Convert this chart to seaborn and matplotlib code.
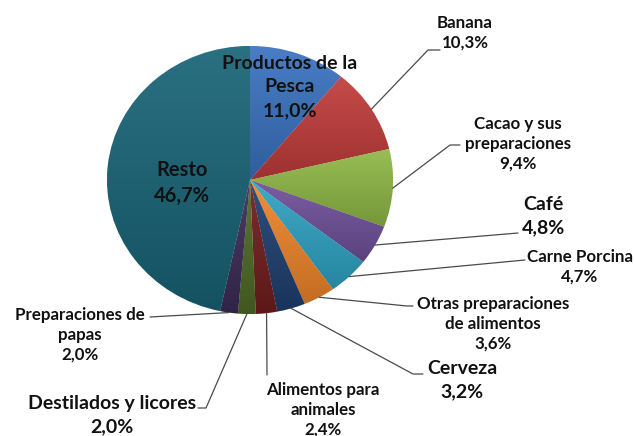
import numpy as np
import matplotlib
matplotlib.use("Agg")
import matplotlib.pyplot as plt
import matplotlib.colors as mcolors
import seaborn as sns

# data
categorias = ["Productos de la\nPesca", "Banana", "Cacao y sus\npreparaciones", "Café",
              "Carne Porcina", "Otras preparaciones\nde alimentos", "Cerveza",
              "Alimentos para\nanimales", "Destilados y licores",
              "Preparaciones de\npapas", "Resto"]
valores = [11.0, 10.3, 9.4, 4.8, 4.7, 3.6, 3.2, 2.4, 2.0, 2.0, 46.7]
colores = ["#3a72c0", "#c03c3a", "#8fb846", "#6f509a", "#2fa3c3", "#ee852a",
           "#1f4070", "#711d1d", "#4f6a26", "#3c2b56", "#186477"]

# label layout (pixel coords of the text block centre, font size, line spacing, leader path)
etiquetas = [
    dict(xy=(290, 87), fs=14.0, ls=1.45, path=None),
    dict(xy=(465, 33), fs=12.2, ls=1.3, path=[(428, 50), (440, 50)]),
    dict(xy=(518, 144), fs=12.2, ls=1.3, path=[(450, 145), (460, 145)]),
    dict(xy=(543, 216), fs=14.0, ls=1.45, path=[(518, 233)]),
    dict(xy=(580, 267), fs=12.2, ls=1.3, path=[(525, 260)]),
    dict(xy=(493, 324), fs=12.2, ls=1.3, path=[(407, 306), (413, 306)]),
    dict(xy=(462, 380), fs=14.0, ls=1.45, path=[(413, 374), (423, 374)]),
    dict(xy=(323, 410), fs=12.2, ls=1.3, path=[(267, 375)]),
    dict(xy=(112, 415), fs=14.0, ls=1.45, path=[(206, 408), (198, 408)]),
    dict(xy=(80, 335), fs=12.2, ls=1.3, path=[(150, 317)]),
    dict(xy=(182, 183), fs=14.5, ls=1.37, path=None),
]

W, H = 634, 436
CX, CY, RX, RY = 250, 180, 143, 134

sns.set_theme(style="white")
plt.rcParams["font.family"] = ["Lato", "DejaVu Sans"]

fig = plt.figure(figsize=(W / 100, H / 100), dpi=100)
fig.patch.set_facecolor("white")

# pie axes, slightly stretched like the original
ax = fig.add_axes([(CX - RX) / W, (H - CY - RY) / H, 2 * RX / W, 2 * RY / H])
wedges, _ = ax.pie(valores, colors=colores, startangle=90, counterclock=False,
                   radius=1.0, wedgeprops=dict(linewidth=0.5, edgecolor="#f4f4f4"))

# vertical shading inside each slice (light top, dark bottom)
for w, c in zip(wedges, colores):
    t = np.deg2rad(np.linspace(w.theta1, w.theta2, 60))
    xs = np.r_[0, np.cos(t)]
    ys = np.r_[0, np.sin(t)]
    rgb = np.array(mcolors.to_rgb(c))
    top = rgb + (1 - rgb) * 0.08
    bot = rgb * 0.82
    f = np.linspace(0, 1, 64)[:, None, None]
    img = bot[None, None, :] * (1 - f) + top[None, None, :] * f
    im = ax.imshow(img, extent=[xs.min(), xs.max(), ys.min(), ys.max()],
                   origin="lower", aspect="auto", interpolation="bilinear", zorder=1)
    im.set_clip_path(w)
    w.set_zorder(0.5)
ax.set_aspect("auto")
ax.set_xlim(-1, 1)
ax.set_ylim(-1, 1)
ax.axis("off")

# overlay axes in pixel coords for labels and leader lines
ov = fig.add_axes([0, 0, 1, 1], zorder=5)
ov.set_xlim(0, W)
ov.set_ylim(H, 0)
ov.axis("off")
ov.patch.set_alpha(0)

for w, cat, val, et in zip(wedges, categorias, valores, etiquetas):
    ang = np.deg2rad((w.theta1 + w.theta2) / 2)
    ex, ey = CX + RX * np.cos(ang), CY - RY * np.sin(ang)
    txt = cat + "\n" + f"{val:.1f}%".replace(".", ",")
    ov.text(et["xy"][0], et["xy"][1], txt, ha="center", va="center",
            multialignment="center", fontsize=et["fs"], fontweight="bold",
            color="#111111", linespacing=et["ls"])
    if et["path"]:
        xs = [ex] + [p[0] for p in et["path"]]
        ys = [ey] + [p[1] for p in et["path"]]
        ov.plot(xs, ys, color="#4a4a4a", lw=0.9)

fig.savefig("out.png", dpi=100)
